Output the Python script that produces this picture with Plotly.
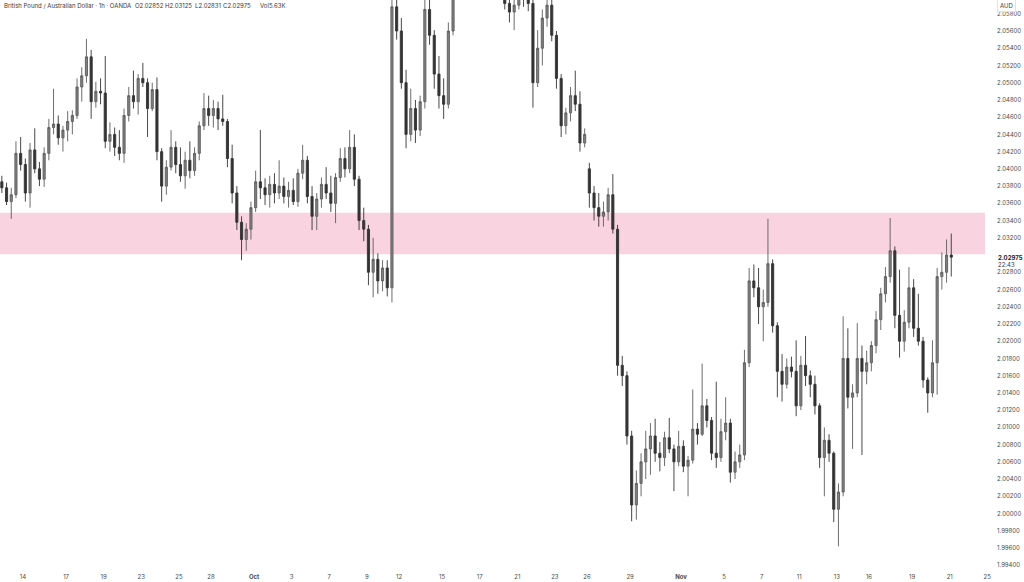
import numpy as np
import plotly.graph_objects as go
from datetime import date

# ---------------- data (6-hour bars) ----------------
FIRST_BAR = -5          # bars counted from the session open of Sun 14 Sep 2025
BAR_HOURS = 6
WEEK_HOURS = 120

opens = [
 2.0385,2.0378,2.0362,2.0370,2.0418,2.0405,2.0372,2.0422,2.0400,2.0388,
 2.0418,2.0448,2.0452,2.0436,2.0445,2.0455,2.0462,2.0495,2.0508,2.0530,
 2.0478,2.0490,2.0488,2.0432,2.0440,2.0425,2.0418,2.0462,2.0485,2.0478,
 2.0505,2.0500,2.0470,2.0492,2.0420,2.0380,2.0402,2.0425,2.0405,2.0392,
 2.0410,2.0398,2.0418,2.0450,2.0470,2.0462,2.0470,2.0458,2.0455,2.0412,
 2.0372,2.0338,2.0318,2.0330,2.0355,2.0385,2.0378,2.0370,2.0382,2.0372,
 2.0380,2.0368,2.0375,2.0362,2.0395,2.0410,2.0368,2.0345,2.0365,2.0382,
 2.0372,2.0360,2.0390,2.0412,2.0400,2.0425,2.0388,2.0340,2.0330,2.0280,
 2.0295,2.0270,2.0285,2.0262,2.0588,2.0560,2.0500,2.0440,2.0470,2.0445,
 2.0478,2.0585,2.0555,2.0510,2.0485,2.0475,2.0560,2.0612,2.0635,2.0660,
 2.0650,2.0665,2.0680,2.0655,2.0640,2.0650,2.0625,2.0618,2.0592,2.0582,
 2.0590,2.0605,2.0600,2.0592,2.0500,2.0540,2.0575,2.0590,2.0555,2.0505,
 2.0450,2.0465,2.0485,2.0475,2.0430,2.0400,2.0372,2.0355,2.0345,2.0350,
 2.0370,2.0330,2.0172,2.0160,2.0090,2.0010,2.0035,2.0060,2.0075,2.0090,
 2.0070,2.0065,2.0088,2.0075,2.0060,2.0078,2.0055,2.0062,2.0098,2.0092,
 2.0125,2.0108,2.0070,2.0065,2.0095,2.0105,2.0048,2.0060,2.0068,2.0175,
 2.0270,2.0262,2.0240,2.0245,2.0290,2.0218,2.0165,2.0150,2.0170,2.0165,
 2.0125,2.0172,2.0160,2.0150,2.0125,2.0065,2.0085,2.0070,2.0005,2.0025,
 2.0180,2.0135,2.0140,2.0180,2.0165,2.0175,2.0195,2.0225,2.0255,2.0275,
 2.0305,2.0230,2.0200,2.0222,2.0262,2.0215,2.0200,2.0155,2.0140,2.0175,
 2.0275,2.0280,2.0300,
]
highs = [
 2.0392,2.0384,2.0378,2.0432,2.0437,2.0412,2.0430,2.0447,2.0408,2.0425,
 2.0458,2.0493,2.0462,2.0450,2.0467,2.0468,2.0505,2.0518,2.0551,2.0538,
 2.0501,2.0505,2.0531,2.0454,2.0448,2.0445,2.0470,2.0495,2.0514,2.0510,
 2.0523,2.0505,2.0500,2.0506,2.0424,2.0410,2.0445,2.0432,2.0425,2.0420,
 2.0432,2.0425,2.0455,2.0488,2.0485,2.0480,2.0478,2.0486,2.0458,2.0428,
 2.0380,2.0345,2.0337,2.0362,2.0398,2.0445,2.0389,2.0392,2.0395,2.0410,
 2.0390,2.0385,2.0389,2.0400,2.0428,2.0415,2.0380,2.0372,2.0390,2.0402,
 2.0392,2.0395,2.0424,2.0425,2.0445,2.0440,2.0392,2.0355,2.0335,2.0320,
 2.0302,2.0294,2.0294,2.0610,2.0625,2.0575,2.0515,2.0493,2.0480,2.0485,
 2.0605,2.0600,2.0561,2.0531,2.0505,2.0570,2.0615,2.0650,2.0670,2.0690,
 2.0675,2.0700,2.0695,2.0670,2.0665,2.0660,2.0645,2.0630,2.0600,2.0598,
 2.0620,2.0625,2.0615,2.0605,2.0561,2.0585,2.0605,2.0602,2.0560,2.0510,
 2.0471,2.0495,2.0514,2.0490,2.0447,2.0407,2.0380,2.0372,2.0362,2.0378,
 2.0394,2.0335,2.0183,2.0165,2.0096,2.0050,2.0070,2.0096,2.0105,2.0110,
 2.0083,2.0095,2.0111,2.0080,2.0096,2.0085,2.0067,2.0144,2.0105,2.0174,
 2.0133,2.0112,2.0153,2.0110,2.0135,2.0110,2.0072,2.0080,2.0190,2.0285,
 2.0289,2.0285,2.0260,2.0342,2.0295,2.0222,2.0185,2.0180,2.0182,2.0201,
 2.0183,2.0206,2.0166,2.0160,2.0128,2.0100,2.0092,2.0072,2.0035,2.0229,
 2.0215,2.0150,2.0221,2.0195,2.0189,2.0200,2.0235,2.0262,2.0286,2.0343,
 2.0310,2.0283,2.0236,2.0286,2.0272,2.0255,2.0205,2.0158,2.0201,2.0285,
 2.0303,2.0318,2.0325,
]
lows = [
 2.0372,2.0358,2.0342,2.0366,2.0398,2.0362,2.0355,2.0395,2.0380,2.0379,
 2.0410,2.0440,2.0428,2.0420,2.0432,2.0440,2.0458,2.0478,2.0500,2.0458,
 2.0471,2.0475,2.0424,2.0420,2.0415,2.0410,2.0407,2.0455,2.0470,2.0463,
 2.0495,2.0437,2.0467,2.0410,2.0362,2.0370,2.0398,2.0395,2.0385,2.0377,
 2.0389,2.0392,2.0410,2.0445,2.0450,2.0448,2.0445,2.0450,2.0402,2.0360,
 2.0329,2.0294,2.0305,2.0318,2.0350,2.0365,2.0358,2.0355,2.0360,2.0365,
 2.0360,2.0355,2.0358,2.0356,2.0388,2.0360,2.0329,2.0329,2.0355,2.0365,
 2.0350,2.0337,2.0385,2.0390,2.0395,2.0380,2.0329,2.0316,2.0265,2.0251,
 2.0255,2.0258,2.0252,2.0245,2.0550,2.0493,2.0424,2.0432,2.0430,2.0438,
 2.0470,2.0544,2.0493,2.0470,2.0458,2.0470,2.0555,2.0608,2.0625,2.0640,
 2.0630,2.0650,2.0640,2.0625,2.0620,2.0615,2.0610,2.0585,2.0570,2.0561,
 2.0585,2.0588,2.0583,2.0471,2.0495,2.0520,2.0565,2.0548,2.0493,2.0437,
 2.0440,2.0455,2.0467,2.0420,2.0425,2.0355,2.0340,2.0333,2.0333,2.0340,
 2.0325,2.0160,2.0148,2.0080,1.9991,1.9993,2.0020,2.0040,2.0045,2.0060,
 2.0049,2.0055,2.0070,2.0026,2.0055,2.0048,2.0020,2.0058,2.0080,2.0090,
 2.0100,2.0062,2.0053,2.0060,2.0085,2.0036,2.0040,2.0053,2.0062,2.0170,
 2.0251,2.0220,2.0200,2.0240,2.0210,2.0135,2.0130,2.0145,2.0158,2.0113,
 2.0120,2.0148,2.0135,2.0115,2.0053,2.0020,2.0060,1.9990,1.9962,2.0020,
 2.0122,2.0075,2.0135,2.0068,2.0150,2.0165,2.0186,2.0213,2.0245,2.0268,
 2.0215,2.0181,2.0188,2.0215,2.0205,2.0195,2.0146,2.0117,2.0135,2.0138,
 2.0260,2.0268,2.0275,
]
closes = [
 2.0378,2.0362,2.0370,2.0418,2.0405,2.0372,2.0422,2.0400,2.0388,2.0418,
 2.0448,2.0452,2.0436,2.0445,2.0455,2.0462,2.0495,2.0508,2.0530,2.0478,
 2.0490,2.0488,2.0432,2.0440,2.0425,2.0418,2.0462,2.0485,2.0478,2.0505,
 2.0500,2.0470,2.0492,2.0420,2.0380,2.0402,2.0425,2.0405,2.0392,2.0410,
 2.0398,2.0418,2.0450,2.0470,2.0462,2.0470,2.0458,2.0455,2.0412,2.0372,
 2.0338,2.0318,2.0330,2.0355,2.0385,2.0378,2.0370,2.0382,2.0372,2.0380,
 2.0368,2.0375,2.0362,2.0395,2.0410,2.0368,2.0345,2.0365,2.0382,2.0372,
 2.0360,2.0390,2.0412,2.0400,2.0425,2.0388,2.0340,2.0330,2.0280,2.0295,
 2.0270,2.0285,2.0262,2.0588,2.0560,2.0500,2.0440,2.0470,2.0445,2.0478,
 2.0585,2.0555,2.0510,2.0485,2.0475,2.0560,2.0612,2.0635,2.0660,2.0650,
 2.0665,2.0680,2.0655,2.0640,2.0650,2.0625,2.0618,2.0592,2.0582,2.0590,
 2.0605,2.0600,2.0592,2.0500,2.0540,2.0575,2.0590,2.0555,2.0505,2.0450,
 2.0465,2.0485,2.0475,2.0430,2.0440,2.0372,2.0355,2.0345,2.0350,2.0370,
 2.0330,2.0172,2.0160,2.0090,2.0010,2.0035,2.0060,2.0075,2.0090,2.0070,
 2.0065,2.0088,2.0075,2.0060,2.0078,2.0055,2.0062,2.0098,2.0092,2.0125,
 2.0108,2.0070,2.0065,2.0095,2.0105,2.0048,2.0060,2.0068,2.0175,2.0270,
 2.0262,2.0240,2.0245,2.0290,2.0218,2.0165,2.0150,2.0170,2.0165,2.0125,
 2.0172,2.0160,2.0150,2.0125,2.0065,2.0085,2.0070,2.0005,2.0025,2.0180,
 2.0135,2.0140,2.0180,2.0165,2.0175,2.0195,2.0225,2.0255,2.0275,2.0305,
 2.0230,2.0200,2.0222,2.0262,2.0215,2.0200,2.0155,2.0140,2.0175,2.0275,
 2.0280,2.0300,2.02975,
]

tick_dates = ["2025-09-14","2025-09-17","2025-09-19","2025-09-23","2025-09-25",
              "2025-09-28","2025-10-01","2025-10-03","2025-10-07","2025-10-09",
              "2025-10-12","2025-10-15","2025-10-17","2025-10-21","2025-10-23",
              "2025-10-26","2025-10-29","2025-11-02","2025-11-05","2025-11-07",
              "2025-11-11","2025-11-13","2025-11-16","2025-11-19","2025-11-21",
              "2025-11-25"]
tick_text = ["14","17","19","23","25","28","<b>Oct</b>","3","7","9","12","15","17",
             "21","23","26","29","<b>Nov</b>","5","7","11","13","16","19","21","25"]

zone_low, zone_high = 2.0301, 2.0349
last_price = 2.02975
countdown = "22:43"
header = "British Pound / Australian Dollar · 1h · OANDA"
ohlc_parts = ["O2.02852", "H2.03125", "L2.02831", "C2.02975", "Vol5.63K"]
currency = "AUD"

# ---------------- helpers ----------------
SESSION_START = date(2025, 9, 14)   # Sunday, first session open shown


def session_hour(day_str):
    """Trading-hour index (New York time, 17:00 Sunday open) of a day's first bar."""
    d = date.fromisoformat(day_str)
    week, dow = divmod((d - SESSION_START).days, 7)
    offset = 0 if dow == 0 else 7 + (dow - 1) * 24
    return week * WEEK_HOURS + offset


tick_pos = [session_hour(s) / BAR_HOURS - 0.5 for s in tick_dates]
bars = list(range(FIRST_BAR, FIRST_BAR + len(closes)))

W, H = 1024, 582
ML, MR, MT, MB = 0, 35, 0, 16
PW, PH = W - ML - MR, H - MT - MB
BAR_PX = 4.7
X0_PX = 25.35
x_range = [-X0_PX / BAR_PX, (PW - X0_PX) / BAR_PX]
PX_PER_UNIT = 8617.0
y_top = 2.056 + 31 / PX_PER_UNIT
y_range = [y_top - PH / PX_PER_UNIT, y_top]

y_ticks = [round(v, 3) for v in np.arange(1.994, 2.0581, 0.002)]
y_ticks = [v for v in y_ticks if abs(v - last_price) > 0.001]
y_text = [f"{v:.5f}" for v in y_ticks]

FONT = "Inter, Roboto, sans-serif"
FS = 6.0

fig = go.Figure()
fig.add_trace(go.Candlestick(
    x=bars, open=opens, high=highs, low=lows, close=closes,
    increasing=dict(line=dict(color="#5c5c5c", width=0.9), fillcolor="#808080"),
    decreasing=dict(line=dict(color="#333333", width=0.9), fillcolor="#333333"),
    whiskerwidth=0, hoverinfo="skip", showlegend=False,
))

fig.add_shape(type="rect", xref="x", yref="y", x0=x_range[0],
              x1=x_range[0] + 985 / BAR_PX,
              y0=zone_low, y1=zone_high, fillcolor="#f9d4e0",
              line=dict(width=0), layer="below")

annotations = []
annotations.append(dict(text=header, xref="paper", yref="paper",
                        x=2 / PW, y=1 - 6 / PH, xanchor="left", yanchor="middle",
                        showarrow=False, font=dict(family=FONT, size=FS, color="#3a3a3a")))
part_x = [133, 163, 193, 221, 258]
for txt, px in zip(ohlc_parts, part_x):
    annotations.append(dict(text=txt, xref="paper", yref="paper",
                            x=px / PW, y=1 - 6 / PH, xanchor="left", yanchor="middle",
                            showarrow=False, font=dict(family=FONT, size=FS, color="#3a3a3a")))
annotations.append(dict(text=f"<b>{last_price:.5f}</b>", xref="paper", yref="y",
                        x=996 / PW, y=last_price, xanchor="left", yanchor="middle",
                        showarrow=False, font=dict(family=FONT, size=FS, color="#1e1e1e")))
annotations.append(dict(text=countdown, xref="paper", yref="y",
                        x=996 / PW, y=last_price - 7 / PX_PER_UNIT, xanchor="left",
                        yanchor="middle", showarrow=False,
                        font=dict(family=FONT, size=FS, color="#3a3a3a")))
annotations.append(dict(text=currency, xref="paper", yref="paper",
                        x=(1006 - ML) / PW, y=1 - 6 / PH, xanchor="center", yanchor="middle",
                        showarrow=False, bgcolor="#ffffff", bordercolor="#e3e3e3",
                        borderwidth=1, borderpad=2,
                        font=dict(family=FONT, size=FS, color="#3a3a3a")))

fig.update_layout(
    width=W, height=H, autosize=False,
    margin=dict(l=ML, r=MR, t=MT, b=MB, pad=0),
    paper_bgcolor="#ffffff", plot_bgcolor="#ffffff",
    boxgap=0.35,
    annotations=annotations,
    xaxis=dict(range=x_range, showgrid=False, zeroline=False, showline=False,
               tickmode="array", tickvals=tick_pos, ticktext=tick_text,
               tickfont=dict(family=FONT, size=FS, color="#4a4a4a"),
               ticks="", ticklabelstandoff=6, rangeslider=dict(visible=False),
               fixedrange=True),
    yaxis=dict(range=y_range, side="right", showgrid=False, zeroline=False,
               showline=False, tickmode="array", tickvals=y_ticks, ticktext=y_text,
               tickfont=dict(family=FONT, size=FS, color="#4a4a4a"),
               ticks="", ticklabelstandoff=7, fixedrange=True),
)

fig.write_html("out.html", config={"displayModeBar": False},
               post_script="document.body.style.margin='0';document.body.style.padding='0';")
